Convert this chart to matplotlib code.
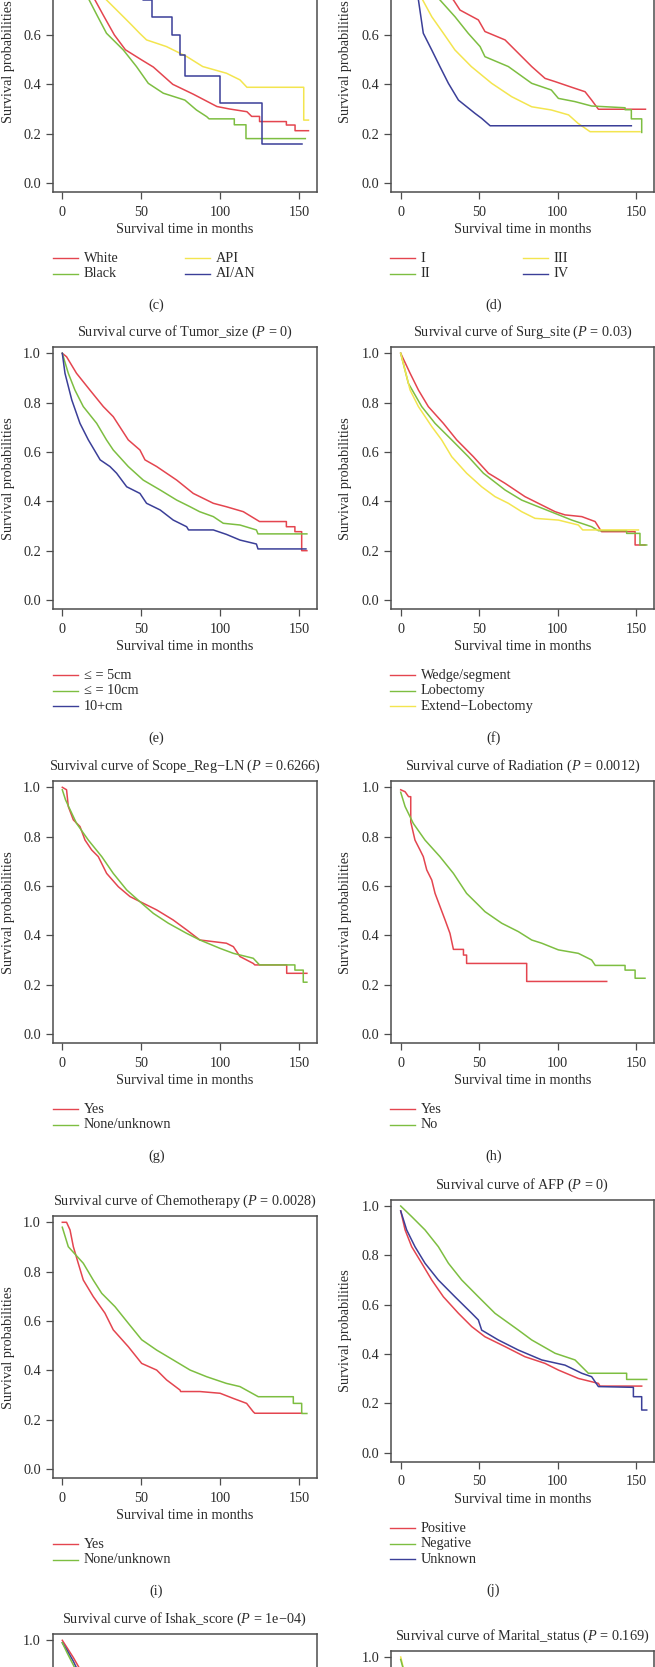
import matplotlib.pyplot as plt
from matplotlib.lines import Line2D

plt.rcParams['font.family'] = ['Liberation Serif', 'DejaVu Serif']
plt.rcParams['mathtext.fontset'] = 'custom'
plt.rcParams['mathtext.rm'] = 'Liberation Serif'
plt.rcParams['mathtext.it'] = 'Liberation Serif:italic'

W, H = 655, 1667
RED, GREEN, YELLOW, BLUE = '#e4454f', '#7dbe41', '#f3e54f', '#3b3f98'
TXT = '#2b2b2b'
FS = 10.3

# ---- survival curves: (months, survival probability) ----
# (c) race
c_white = [(0, 1.0), (5, 0.93), (10, 0.86), (15, 0.8), (20.7, 0.742), (26, 0.68), (33, 0.6),
           (40, 0.54), (50, 0.5), (57.7, 0.47), (70, 0.4), (83, 0.36), (98, 0.31), (106, 0.3),
           (117, 0.289), (120, 0.27), (125, 0.27), (125, 0.249), (142, 0.249), (142, 0.235),
           (147.5, 0.235), (147.5, 0.212), (156, 0.212)]
c_black = [(0, 1.0), (5, 0.92), (10, 0.84), (17, 0.742), (22, 0.68), (28, 0.607), (38.7, 0.539),
           (47, 0.472), (54.5, 0.404), (64, 0.364), (77.7, 0.336), (85, 0.296), (91.5, 0.269),
           (93, 0.26), (109, 0.26), (109, 0.236), (116.4, 0.236), (116.4, 0.18), (154, 0.18)]
c_api = [(0, 1.0), (5, 0.95), (12, 0.88), (20, 0.8), (28, 0.742), (38.7, 0.674), (44, 0.64),
         (49, 0.607), (53.4, 0.58), (66, 0.553), (79, 0.512), (89, 0.472), (104, 0.445),
         (112.6, 0.418), (117, 0.388), (153, 0.388), (153, 0.255), (156, 0.255)]
c_aian = [(0, 1.0), (8, 1.0), (8, 0.95), (18, 0.95), (18, 0.9), (28, 0.9), (28, 0.85), (40, 0.85),
          (40, 0.8), (51.3, 0.8), (51.3, 0.74), (56.6, 0.74), (56.6, 0.674), (69.5, 0.674),
          (69.5, 0.6), (74.7, 0.6), (74.7, 0.519), (77.7, 0.519), (77.7, 0.434), (100, 0.434),
          (100, 0.326), (126.4, 0.326), (126.4, 0.158), (151.7, 0.158)]

# (d) stage
d_i = [(0, 1.0), (5, 0.95), (10, 0.9), (16, 0.85), (22, 0.8), (33.6, 0.742), (37.8, 0.701),
       (49.5, 0.661), (53.7, 0.614), (66.5, 0.58), (75, 0.526), (83.5, 0.472), (92, 0.424),
       (98.4, 0.411), (109, 0.388), (117.5, 0.37), (121.7, 0.336), (126, 0.299), (156, 0.299)]
d_ii = [(0, 1.0), (4, 0.95), (8, 0.9), (12, 0.85), (17, 0.8), (25, 0.742), (34.6, 0.674),
        (43, 0.607), (50.6, 0.553), (53.7, 0.512), (68.6, 0.472), (83.5, 0.404), (96, 0.377),
        (100.5, 0.343), (111, 0.33), (121.7, 0.312), (143, 0.305), (143, 0.297), (147, 0.297),
        (147, 0.26), (153.6, 0.26), (153.6, 0.205)]
d_iii = [(0, 1.0), (2, 0.95), (5, 0.9), (7.5, 0.85), (10, 0.8), (14, 0.742), (19.8, 0.674),
         (27.2, 0.607), (34.6, 0.539), (45, 0.472), (58, 0.404), (70.7, 0.35), (83.5, 0.309),
         (96, 0.296), (107, 0.276), (113, 0.242), (120.7, 0.208), (152.5, 0.208)]
d_iv = [(0, 1.0), (2, 0.93), (4, 0.87), (6, 0.82), (8, 0.79), (11.3, 0.742), (14.4, 0.607),
        (19.8, 0.539), (25, 0.472), (30.4, 0.404), (36.8, 0.336), (47.4, 0.282), (51.6, 0.262),
        (57, 0.232), (147, 0.232)]

# (e) tumor size
e_le5 = [(0, 1.0), (2.7, 0.986), (9, 0.919), (17.5, 0.851), (26, 0.784), (32.3, 0.743),
         (41.8, 0.649), (49.2, 0.608), (52.4, 0.568), (59.8, 0.541), (72.5, 0.486), (83, 0.432),
         (95.7, 0.392), (104, 0.378), (114.7, 0.358), (125, 0.318), (142, 0.318), (142, 0.297),
         (147.4, 0.297), (147.4, 0.277), (151.7, 0.277), (151.7, 0.2), (155, 0.2)]
e_le10 = [(0, 1.0), (3.8, 0.919), (8, 0.851), (13.3, 0.784), (21.8, 0.716), (28, 0.649),
          (32.3, 0.608), (41.8, 0.541), (51.3, 0.486), (62, 0.446), (72.5, 0.405), (81, 0.378),
          (87, 0.358), (95.7, 0.338), (102, 0.311), (112.6, 0.304), (123, 0.284), (124, 0.268),
          (155, 0.268)]
e_gt10 = [(0, 1.0), (1.7, 0.919), (6, 0.811), (11.2, 0.716), (16.5, 0.649), (24, 0.568),
          (30.2, 0.541), (34.4, 0.514), (40.8, 0.459), (49.2, 0.432), (53.4, 0.392), (62, 0.365),
          (70.3, 0.324), (78.8, 0.297), (80, 0.284), (95.7, 0.284), (104, 0.266), (112.6, 0.243),
          (123, 0.227), (124, 0.207), (154.4, 0.207)]

# (f) surgery site
f_wedge = [(0, 1.0), (6, 0.919), (11.3, 0.851), (17.6, 0.784), (27.2, 0.716), (35.7, 0.649),
           (46.3, 0.581), (55.9, 0.514), (66.5, 0.473), (79.2, 0.419), (89.9, 0.385),
           (98.4, 0.358), (104.7, 0.345), (115.4, 0.338), (123.9, 0.318), (128, 0.277),
           (149.4, 0.277), (149.4, 0.223), (155.7, 0.223)]
f_lobe = [(0, 1.0), (4.9, 0.878), (13.4, 0.784), (21.9, 0.716), (32.5, 0.649), (43.1, 0.581),
          (52.7, 0.514), (66.5, 0.446), (77.1, 0.405), (87.7, 0.378), (98.4, 0.351), (109, 0.324),
          (121.7, 0.297), (126, 0.281), (144, 0.281), (144, 0.27), (152.5, 0.27), (152.5, 0.223),
          (156.8, 0.223)]
f_ext = [(0, 1.0), (6, 0.851), (11.3, 0.784), (19.8, 0.703), (26.1, 0.649), (32.5, 0.581),
         (42, 0.514), (51.6, 0.459), (60.1, 0.419), (68.6, 0.392), (77.1, 0.358), (85.6, 0.331),
         (100.5, 0.324), (113.2, 0.304), (116, 0.284), (151.5, 0.284)]

# (g) regional lymph node scope
g_yes = [(0, 1.0), (2.7, 0.99), (3.8, 0.922), (7, 0.868), (11.2, 0.841), (14.4, 0.786),
         (18.6, 0.746), (22.8, 0.719), (28.1, 0.651), (35.5, 0.597), (42.9, 0.557), (51.3, 0.53),
         (59.8, 0.503), (70.3, 0.462), (78.8, 0.422), (87.2, 0.381), (104, 0.368), (108.4, 0.354),
         (112.6, 0.314), (121, 0.286), (122, 0.28), (142.2, 0.28), (142.2, 0.246), (155, 0.246)]
g_none = [(0, 0.99), (2, 0.95), (4, 0.922), (9, 0.854), (16.5, 0.786), (25, 0.719), (32.3, 0.651),
          (40.8, 0.584), (50.3, 0.53), (57.7, 0.489), (67.2, 0.449), (78.8, 0.408), (87.2, 0.381),
          (100, 0.347), (108.4, 0.327), (121, 0.307), (125, 0.28), (147.4, 0.28), (147.4, 0.259),
          (152.7, 0.259), (152.7, 0.21), (155, 0.21)]

# (h) radiation
h_yes = [(0, 0.99), (2.8, 0.982), (5, 0.962), (6.4, 0.962), (6.4, 0.86), (9.1, 0.786),
         (12.3, 0.746), (14.4, 0.719), (16.6, 0.665), (19.8, 0.624), (21.9, 0.57), (25.1, 0.516),
         (28.3, 0.462), (31.4, 0.408), (33.6, 0.343), (40, 0.343), (40, 0.32), (42, 0.32),
         (42, 0.286), (80.3, 0.286), (80.3, 0.213), (131.3, 0.213)]
h_no = [(0, 0.98), (2.8, 0.922), (8, 0.854), (15.5, 0.786), (25, 0.719), (33.6, 0.651), (42, 0.57),
        (50.6, 0.516), (53.7, 0.496), (64.4, 0.449), (75, 0.415), (83.5, 0.381), (89.9, 0.368),
        (100.5, 0.341), (113.2, 0.327), (121.7, 0.3), (124, 0.278), (143, 0.278), (143, 0.259),
        (149.4, 0.259), (149.4, 0.226), (155.7, 0.226)]

# (i) chemotherapy
i_yes = [(0, 1.0), (2.7, 1.0), (4.9, 0.969), (7, 0.901), (10.1, 0.834), (13.3, 0.766),
         (19.6, 0.699), (27, 0.632), (32.3, 0.564), (41.8, 0.496), (50.3, 0.428), (59.8, 0.401),
         (66.1, 0.361), (74.6, 0.32), (75, 0.314), (87.2, 0.314), (100, 0.307), (108.4, 0.286),
         (116.8, 0.266), (121, 0.232), (122, 0.226), (151.7, 0.226)]
i_none = [(0, 0.98), (3.8, 0.901), (13.3, 0.834), (19.6, 0.766), (25, 0.712), (33.4, 0.658),
          (41.8, 0.591), (50.3, 0.524), (59.8, 0.482), (70.3, 0.442), (81, 0.401), (91.5, 0.374),
          (104, 0.347), (112.6, 0.334), (124.2, 0.293), (146.4, 0.293), (146.4, 0.266),
          (151.7, 0.266), (151.7, 0.225), (155, 0.225)]

# (j) AFP
j_pos = [(0, 0.98), (2.8, 0.903), (7, 0.835), (13.4, 0.768), (19.8, 0.7), (27.2, 0.632),
         (36.8, 0.565), (45.3, 0.511), (53.7, 0.47), (66.5, 0.43), (79.2, 0.389), (92, 0.362),
         (100.5, 0.335), (113.2, 0.301), (126, 0.281), (127, 0.27), (153.6, 0.27)]
j_neg = [(0, 1.0), (7, 0.957), (15.5, 0.903), (24, 0.835), (30.4, 0.768), (38.9, 0.7),
         (49.5, 0.632), (60.1, 0.565), (75, 0.497), (83.5, 0.457), (98.4, 0.403), (111.1, 0.376),
         (119.6, 0.322), (144, 0.322), (144, 0.297), (156.8, 0.297)]
j_unk = [(0, 0.98), (3.8, 0.903), (9.1, 0.835), (15.5, 0.768), (24, 0.7), (34.6, 0.632),
         (45.3, 0.565), (49.5, 0.538), (51.6, 0.497), (62.2, 0.457), (75, 0.416), (89.9, 0.376),
         (104.7, 0.355), (115.4, 0.322), (121.7, 0.308), (126, 0.268), (148.3, 0.265),
         (148.3, 0.227), (153.6, 0.227), (153.6, 0.173), (156.8, 0.173)]

# (k) Ishak score, only the top is visible
k_red = [(0, 1.0), (3, 0.97), (7, 0.93), (11, 0.885), (20, 0.78), (40, 0.6), (60, 0.48),
         (100, 0.35), (150, 0.28)]
k_blue = [(0, 0.99), (3, 0.96), (7, 0.915), (10, 0.875), (20, 0.76), (40, 0.57), (60, 0.46),
          (100, 0.33), (150, 0.26)]
k_green = [(0, 0.99), (3, 0.95), (7, 0.9), (10, 0.86), (20, 0.74), (40, 0.55), (60, 0.44),
           (100, 0.3), (150, 0.22)]

# (l) marital status, only the top is visible
l_yellow = [(0, 1.0), (1.5, 0.96), (10, 0.86), (30, 0.68), (60, 0.5), (100, 0.36), (150, 0.3)]
l_green = [(0, 0.99), (1.5, 0.955), (10, 0.85), (30, 0.66), (60, 0.48), (100, 0.34), (150, 0.27)]

fig = plt.figure(figsize=(W / 100, H / 100), dpi=100)


def fy(y):
    # pixels from the top -> figure fraction
    return 1 - y / H


COLS = {0: dict(x0=62.3, ppm=1.578, ylab=8.3, leg=(52.7, 185.0), letter=156.5),
        1: dict(x0=400.7, ppm=1.569, ylab=345.0, leg=(390.0, 522.7), letter=493.3)}
XMIN, XMAX = -6.1, 161.2
YMIN, YMAX = -0.038, 1.024
PPU = 246.7
FRAME = '#4d4d4d'


def put(x, y, s, **kw):
    if 0 < y < H:
        fig.text(x / W, fy(y), s, fontsize=FS, color=TXT, **kw)


def panel(col, zero, title, curves, colors, labels, letter, ncol=1):
    g = COLS[col]
    left = g['x0'] + XMIN * g['ppm']
    width = (XMAX - XMIN) * g['ppm']
    top = zero - YMAX * PPU
    bottom = zero - YMIN * PPU
    ax = fig.add_axes([left / W, fy(bottom), width / W, (bottom - top) / H])
    for pts, c in zip(curves, colors):
        t, s = zip(*pts)
        ax.plot(t, s, color=c, lw=1.1)
    ax.set_xlim(XMIN, XMAX)
    ax.set_ylim(YMIN, YMAX)
    ax.set_xticks([0, 50, 100, 150])
    yt = [0.0, 0.2, 0.4, 0.6, 0.8, 1.0]
    ax.set_yticks(yt)
    ax.set_yticklabels([f'{v:.1f}' for v in yt])
    # labels that fall outside the cropped page are not drawn
    for v, lab in zip(yt, ax.get_yticklabels()):
        py = zero - v * PPU
        if py < 6 or py > H - 6:
            lab.set_visible(False)
    if bottom + 20 > H:
        for lab in ax.get_xticklabels():
            lab.set_visible(False)
    for sp in ax.spines.values():
        sp.set_color(FRAME)
        sp.set_linewidth(1.1)
    ax.tick_params(direction='out', length=5, width=0.9, color=FRAME,
                   labelsize=FS, labelcolor=TXT)
    ax.tick_params(axis='x', pad=4.5)
    ax.tick_params(axis='y', pad=3.5)

    cx = left + width / 2
    if title:
        put(cx, top - 15, title, ha='center', va='center')
    put(cx, bottom + 37, 'Survival time in months', ha='center', va='center')
    put(g['ylab'], (top + bottom) / 2, 'Survival probabilities', ha='center', va='center',
        rotation=90)

    rows = -(-len(labels) // ncol)
    for i, (lab, c) in enumerate(zip(labels, colors)):
        lx = g['leg'][i // rows]
        ly = bottom + 66 + 15.5 * (i % rows)
        if ly < H:
            fig.add_artist(Line2D([lx / W, (lx + 25) / W], [fy(ly)] * 2, color=c, lw=1.0))
        put(lx + 30.8, ly, lab, ha='left', va='center')
    if labels:
        put(g['letter'], bottom + 66 + 15.5 * (rows - 1) + 31.5, letter, ha='center', va='center')


panel(0, 183.0, None, [c_white, c_black, c_api, c_aian], [RED, GREEN, YELLOW, BLUE],
      ['White', 'Black', 'API', 'AI/AN'], '(c)', ncol=2)
panel(1, 183.0, None, [d_i, d_ii, d_iii, d_iv], [RED, GREEN, YELLOW, BLUE],
      ['I', 'II', 'III', 'IV'], '(d)', ncol=2)
panel(0, 600.0, 'Survival curve of Tumor_size ($P$ = 0)', [e_le5, e_le10, e_gt10],
      [RED, GREEN, BLUE], ['≤ = 5cm', '≤ = 10cm', '10+cm'], '(e)')
panel(1, 600.0, 'Survival curve of Surg_site ($P$ = 0.03)', [f_wedge, f_lobe, f_ext],
      [RED, GREEN, YELLOW], ['Wedge/segment', 'Lobectomy', 'Extend\u2212Lobectomy'], '(f)')
panel(0, 1034.0, 'Survival curve of Scope_Reg\u2212LN ($P$ = 0.6266)', [g_yes, g_none],
      [RED, GREEN], ['Yes', 'None/unknown'], '(g)')
panel(1, 1034.0, 'Survival curve of Radiation ($P$ = 0.0012)', [h_yes, h_no],
      [RED, GREEN], ['Yes', 'No'], '(h)')
panel(0, 1469.0, 'Survival curve of Chemotherapy ($P$ = 0.0028)', [i_yes, i_none],
      [RED, GREEN], ['Yes', 'None/unknown'], '(i)')
panel(1, 1452.7, 'Survival curve of AFP ($P$ = 0)', [j_pos, j_neg, j_unk],
      [RED, GREEN, BLUE], ['Positive', 'Negative', 'Unknown'], '(j)')
panel(0, 1887.0, 'Survival curve of Ishak_score ($P$ = 1e\u221204)', [k_red, k_blue, k_green],
      [RED, BLUE, GREEN], [], '(k)')
panel(1, 1903.7, 'Survival curve of Marital_status ($P$ = 0.169)', [l_yellow, l_green],
      [YELLOW, GREEN], [], '(l)')

fig.savefig('out.png', dpi=100)
